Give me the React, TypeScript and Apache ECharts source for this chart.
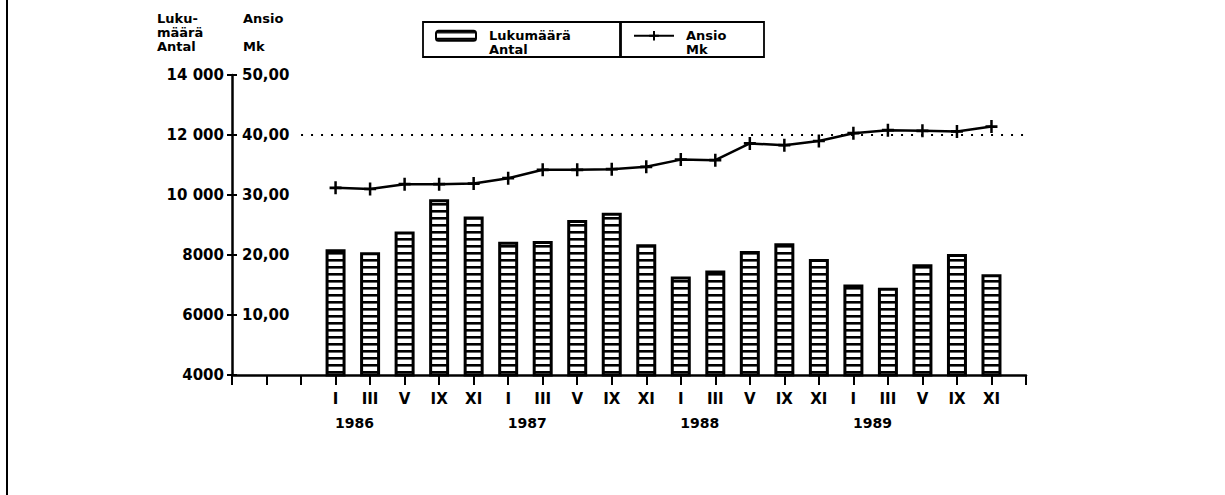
import React, { useEffect, useRef } from "react";
import * as echarts from "echarts";

// ---- data ----
const months = ["I", "III", "V", "IX", "XI"];
const years = ["1986", "1987", "1988", "1989"];
const leadingBlanks = 3;
const trailingBlanks = 1;

// Lukumäärä / Antal (left axis)
const counts = [
  8190, 8090, 8780, 9860, 9280,
  8440, 8470, 9170, 9410, 8360,
  7280, 7480, 8130, 8390, 7870,
  7020, 6910, 7690, 8030, 7360,
];
// Ansio / Mk (right scale)
const wages = [
  31.2, 31.0, 31.8, 31.8, 31.9,
  32.8, 34.2, 34.2, 34.3, 34.7,
  35.9, 35.8, 38.6, 38.3, 39.0,
  40.3, 40.8, 40.7, 40.6, 41.4,
];

const leftTickLabels = ["4000", "6000", "8000", "10 000", "12 000", "14 000"];
const rightTickLabels = ["", "10,00", "20,00", "30,00", "40,00", "50,00"];
const referenceWage = 40;

const countName = "Lukumäärä\nAntal";
const wageName = "Ansio\nMk";

const blanks = (n: number) => Array.from({ length: n }, () => "");
const nulls = (n: number) => Array.from({ length: n }, () => null as any);

const categories = [
  ...blanks(leadingBlanks),
  ...years.flatMap(() => months),
  ...blanks(trailingBlanks),
];
const yearRow = [
  ...blanks(leadingBlanks),
  ...years.flatMap((y) => [y, ...blanks(months.length - 1)]),
  ...blanks(trailingBlanks),
];

const FONT = "DejaVu Sans";
const PLUS = "path://M4.75,0H7.25V4.75H12V7.25H7.25V12H4.75V7.25H0V4.75H4.75Z";

export default function App() {
  const ref = useRef<HTMLDivElement>(null);

  useEffect(() => {
    if (!ref.current) return;
    const chart = echarts.init(ref.current, null, { renderer: "svg" });

    const cv = document.createElement("canvas");
    cv.width = 8;
    cv.height = 7;
    const ctx = cv.getContext("2d")!;
    ctx.fillStyle = "#ffffff";
    ctx.fillRect(0, 0, 8, 7);
    ctx.fillStyle = "#000000";
    ctx.fillRect(0, 0, 8, 2.6);
    const stripes: any = { image: cv, repeat: "repeat", imageWidth: 8, imageHeight: 7 };

    const barData = [...nulls(leadingBlanks), ...counts, ...nulls(trailingBlanks)];
    const lineData = [...nulls(leadingBlanks), ...wages, ...nulls(trailingBlanks)];

    const legendText = (w: number, padLeft: number) => ({
      fontFamily: FONT,
      fontWeight: "bold",
      fontSize: 13,
      lineHeight: 13.5,
      color: "#000",
      width: w,
      padding: [0, 0, 0, padLeft],
    });

    const nameStyle = (align: string, pad: number[]) => ({
      align,
      verticalAlign: "bottom",
      fontSize: 13,
      lineHeight: 14,
      fontWeight: "bold",
      fontFamily: FONT,
      color: "#000",
      padding: pad,
    });

    const option: any = {
      animation: false,
      backgroundColor: "#ffffff",
      textStyle: { fontFamily: FONT, fontWeight: "bold", color: "#000" },
      grid: { left: 232, right: 199, top: 75, bottom: 120, containLabel: false },
      legend: [
        {
          data: [{ name: countName, icon: "roundRect" }],
          formatter: (n: string) => " \n" + n,
          left: 423,
          top: 22,
          orient: "horizontal",
          selectedMode: false,
          borderColor: "#000",
          borderWidth: 1.8,
          borderRadius: 0,
          padding: [-6.5, 7, 1, 12],
          itemWidth: 40,
          itemHeight: 10,
          textStyle: legendText(125, 8),
        },
        {
          data: [{ name: wageName }],
          formatter: (n: string) => " \n" + n,
          left: 620,
          top: 22,
          orient: "horizontal",
          selectedMode: false,
          borderColor: "#000",
          borderWidth: 1.8,
          borderRadius: 0,
          padding: [-6.5, 13, 1, 13],
          itemWidth: 40,
          itemHeight: 12,
          textStyle: legendText(65, 7),
        },
      ],
      xAxis: [
        {
          type: "category",
          data: categories,
          boundaryGap: false,
          position: "bottom",
          axisLine: { show: true, lineStyle: { color: "#000", width: 2.5 } },
          axisTick: { show: true, interval: 0, length: 10, lineStyle: { color: "#000", width: 2 } },
          axisLabel: { interval: 0, margin: 16, fontSize: 15, fontWeight: "bold", color: "#000", fontFamily: FONT },
          splitLine: { show: false },
        },
        {
          type: "category",
          data: yearRow,
          boundaryGap: false,
          position: "bottom",
          axisLine: { show: false },
          axisTick: { show: false },
          axisLabel: {
            interval: 0,
            margin: 41,
            fontSize: 14,
            fontWeight: "bold",
            color: "#000",
            fontFamily: FONT,
            align: "center",
            padding: [0, 0, 0, 38],
          },
          splitLine: { show: false },
        },
      ],
      yAxis: [
        {
          type: "value",
          position: "left",
          min: 4000,
          max: 14000,
          interval: 2000,
          name: "Luku-\nmäärä\nAntal",
          nameLocation: "end",
          nameGap: 22,
          nameTextStyle: nameStyle("left", [0, 0, 0, -75]),
          axisLine: { show: true, lineStyle: { color: "#000", width: 2.5 } },
          axisTick: { show: true, length: 5, lineStyle: { color: "#000", width: 2 } },
          axisLabel: {
            margin: 8,
            fontSize: 15,
            fontWeight: "bold",
            color: "#000",
            fontFamily: FONT,
            formatter: (_v: number, i: number) => leftTickLabels[i] ?? "",
          },
          splitLine: { show: false },
        },
        {
          type: "value",
          position: "left",
          min: 0,
          max: 50,
          interval: 10,
          name: "Ansio\n\nMk",
          nameLocation: "end",
          nameGap: 22,
          nameTextStyle: nameStyle("left", [0, 0, 0, 11]),
          axisLine: { show: false },
          axisTick: { show: true, inside: true, length: 5, lineStyle: { color: "#000", width: 2 } },
          axisLabel: {
            inside: true,
            margin: 10,
            fontSize: 15,
            fontWeight: "bold",
            color: "#000",
            fontFamily: FONT,
            formatter: (_v: number, i: number) => rightTickLabels[i] ?? "",
          },
          splitLine: { show: false },
        },
      ],
      series: [
        {
          name: countName,
          type: "bar",
          xAxisIndex: 0,
          yAxisIndex: 0,
          data: barData,
          barWidth: 20,
          itemStyle: { color: stripes, borderColor: "#000", borderWidth: 3 },
          z: 2,
        },
        {
          name: wageName,
          type: "line",
          xAxisIndex: 0,
          yAxisIndex: 1,
          data: lineData,
          symbol: PLUS,
          symbolSize: [12, 13],
          showSymbol: true,
          lineStyle: { color: "#000", width: 2.5 },
          itemStyle: { color: "#000" },
          z: 3,
          markLine: {
            silent: true,
            symbol: "none",
            label: { show: false },
            lineStyle: { color: "#000", width: 2, type: [2, 8] },
            data: [[{ coord: [2, referenceWage] }, { coord: [categories.length - 1, referenceWage] }]],
          },
        },
      ],
      graphic: [
        {
          type: "rect",
          shape: { x: 6, y: 0, width: 2, height: 495 },
          style: { fill: "#000" },
          silent: true,
        },
      ],
    };

    chart.setOption(option);
    return () => chart.dispose();
  }, []);

  return (
    <div
      ref={ref}
      style={{ position: "fixed", left: 0, top: 0, width: 1225, height: 495, background: "#fff" }}
    />
  );
}
